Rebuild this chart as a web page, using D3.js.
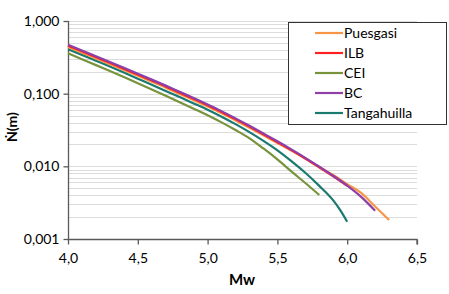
<!DOCTYPE html>
<html>
<head>
<meta charset="utf-8">
<script src="https://cdn.jsdelivr.net/npm/d3@7"></script>
<style>
body{margin:0;background:#fff;}
text{font-family:Lato,"Liberation Sans",sans-serif;fill:#000;}
</style>
</head>
<body>
<div id="chart"></div>
<script>
// magnitudes
var mwFull = [4.0,4.1,4.2,4.3,4.4,4.5,4.6,4.7,4.8,4.9,5.0,5.1,5.2,5.3,5.4,5.5,5.6,5.7,5.8,5.9,6.0,6.1,6.2,6.3];
var mwTanga = [4.0,4.1,4.2,4.3,4.4,4.5,4.6,4.7,4.8,4.9,5.0,5.1,5.2,5.3,5.4,5.5,5.6,5.7,5.8,5.9,5.95,6.0];

var puesgasi = [0.440,0.367,0.305,0.255,0.212,0.176,0.146,0.121,0.099,0.0815,0.0665,0.0538,0.0428,0.0339,0.0267,0.0210,0.0165,0.0128,0.0098,0.0076,0.0057,0.0043,0.0028,0.00183];
var ilb = [0.458,0.383,0.319,0.266,0.221,0.183,0.152,0.126,0.103,0.085,0.0693,0.056,0.0446,0.0352,0.0276,0.0215,0.0167,0.0128,0.0097,0.0073,0.0054];
var cei = [0.360,0.2985,0.247,0.2046,0.169,0.139,0.114,0.0933,0.0762,0.0621,0.0505,0.0403,0.0316,0.0243,0.0176,0.01245,0.0085,0.0059,0.00403];
var bc = [0.470,0.393,0.327,0.273,0.227,0.188,0.156,0.129,0.106,0.0871,0.0711,0.0575,0.0457,0.0361,0.0283,0.0221,0.0171,0.0131,0.00989,0.00741,0.00543,0.0038,0.00245];
var tangahuilla = [0.410,0.342,0.284,0.236,0.195,0.161,0.133,0.109,0.0897,0.0735,0.060,0.0482,0.0381,0.0296,0.0224,0.0166,0.0118,0.00815,0.00538,0.0034,0.0025,0.00173];

var seriesNames = ["Puesgasi","ILB","CEI","BC","Tangahuilla"];
var seriesColors = ["#f79646","#ff2020","#77933c","#8e3fa8","#1b7a70"];

var xTicks = [4.0,4.5,5.0,5.5,6.0,6.5];
var yTicks = [0.001,0.01,0.1,1];

var w = 449, h = 294;
var pLeft = 68, pRight = 417, pTop = 21, pBottom = 239;

var svg = d3.select("#chart").append("svg")
  .attr("width", w).attr("height", h);

var x = d3.scaleLinear().domain([4.0,6.5]).range([pLeft,pRight]);
var y = d3.scaleLog().domain([0.001,1]).range([pBottom,pTop]);

var fmt = function(d){ return d3.format(".3f")(d).replace(".",","); };
var fmtX = function(d){ return d3.format(".1f")(d).replace(".",","); };

// gridlines: decades plus 2..9 minors
var gridVals = [];
for(var p=-3;p<0;p++){
  for(var k=1;k<10;k++){ gridVals.push(k*Math.pow(10,p)); }
}
gridVals.push(1);
svg.append("g").selectAll("line")
  .data(gridVals.filter(function(d){ return d>0.001; }))
  .enter().append("line")
  .attr("x1", pLeft).attr("x2", pRight)
  .attr("y1", function(d){ return Math.round(y(d))+0.5; })
  .attr("y2", function(d){ return Math.round(y(d))+0.5; })
  .attr("stroke", "#dcdcdc").attr("stroke-width", 1);

// axes
var yAxis = svg.append("g")
  .attr("transform","translate("+(pLeft+0.5)+",0)")
  .call(d3.axisLeft(y).tickValues(yTicks).tickFormat(fmt).tickSize(5).tickPadding(4));
var xAxis = svg.append("g")
  .attr("transform","translate(0,"+(pBottom+0.5)+")")
  .call(d3.axisBottom(x).tickValues(xTicks).tickFormat(fmtX).tickSize(5).tickPadding(9));
[xAxis,yAxis].forEach(function(a){
  a.select(".domain").attr("stroke","#5a5a5a").attr("stroke-width",1.3);
  a.selectAll(".tick line").attr("stroke","#5a5a5a").attr("stroke-width",1.3);
  a.selectAll(".tick text").style("font-size","14px").attr("fill","#000");
});
yAxis.select(".domain").attr("d","M0,"+pTop+"V"+pBottom);
xAxis.select(".domain").attr("d","M"+pLeft+",0H"+pRight+"V5");

// series
var series = [
  {name:"Puesgasi", mw:mwFull, n:puesgasi},
  {name:"ILB", mw:mwFull, n:ilb},
  {name:"CEI", mw:mwFull, n:cei},
  {name:"BC", mw:mwFull, n:bc},
  {name:"Tangahuilla", mw:mwTanga, n:tangahuilla}
];
var line = d3.line()
  .x(function(d){ return x(d[0]); })
  .y(function(d){ return y(d[1]); })
  .curve(d3.curveMonotoneX);

// draw order so purple/red sit on top like the original
var drawOrder = [2,4,0,1,3];
drawOrder.forEach(function(i){
  var s = series[i];
  var pts = s.n.map(function(v,j){ return [s.mw[j],v]; });
  svg.append("path")
    .datum(pts)
    .attr("d", line)
    .attr("fill","none")
    .attr("stroke", seriesColors[i])
    .attr("stroke-width", 2.2);
});

// legend
var lg = svg.append("g");
lg.append("rect")
  .attr("x",288.5).attr("y",22.5).attr("width",158).attr("height",102)
  .attr("fill","#fff").attr("stroke","#333").attr("stroke-width",1);
seriesNames.forEach(function(nm,i){
  var yy = 33 + i*20;
  lg.append("line")
    .attr("x1",315).attr("x2",343).attr("y1",yy).attr("y2",yy)
    .attr("stroke",seriesColors[i]).attr("stroke-width",2.2);
  lg.append("text")
    .attr("x",344).attr("y",yy+5)
    .style("font-size","14px")
    .text(nm);
});

// axis titles
svg.append("text")
  .attr("x",242).attr("y",285)
  .attr("text-anchor","middle")
  .style("font-size","15px").style("font-weight","bold")
  .text("Mw");
svg.append("text")
  .attr("transform","translate(17,127) rotate(-90)")
  .attr("text-anchor","middle")
  .style("font-size","14px").style("font-weight","bold")
  .text("Ṅ(m)");
</script>
</body>
</html>
